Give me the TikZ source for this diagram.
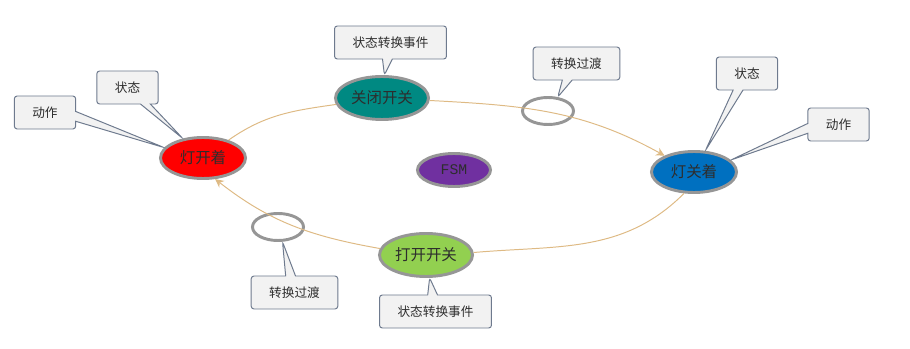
\documentclass[tikz,border=0pt]{standalone}
\usepackage{fontspec}
\newfontfamily\cjk{Noto Sans CJK SC}
\setmonofont{Liberation Mono}
\usetikzlibrary{shapes.geometric,shapes.callouts,arrows.meta}
\definecolor{rimgray}{RGB}{150,150,150}
\definecolor{txtgray}{RGB}{45,45,45}
\definecolor{linetan}{RGB}{222,186,132}
\definecolor{boxfill}{RGB}{242,242,242}
\definecolor{boxrim}{RGB}{110,122,142}
\definecolor{lampon}{RGB}{255,0,0}
\definecolor{lampoff}{RGB}{0,112,192}
\definecolor{swclose}{RGB}{0,137,130}
\definecolor{swopen}{RGB}{146,208,80}
\definecolor{fsmpurple}{RGB}{112,48,160}
\tikzset{
  fsmstate/.style={ellipse,draw=rimgray,line width=2.1pt,inner sep=0pt,
    minimum width=2.125cm,minimum height=1.025cm,text=txtgray,
    font=\cjk\fontsize{11}{13}\selectfont},
  fsmevent/.style={fsmstate,minimum width=2.325cm,minimum height=1.075cm},
  fsmtrans/.style={ellipse,draw=rimgray,line width=2.1pt,inner sep=0pt,
    minimum width=1.275cm,minimum height=0.675cm},
  remark/.style={rectangle callout,draw=boxrim,fill=boxfill,line width=0.7pt,
    rounded corners=2pt,inner xsep=0.45cm,minimum height=0.825cm,
    callout pointer width=7pt,text=txtgray,font=\cjk\fontsize{9}{11}\selectfont},
  flow/.style={draw=linetan,line width=0.7pt},
  flowarrow/.style={flow,-{Stealth[length=6pt,width=6pt]}}
}
\begin{document}
\begin{tikzpicture}[x=0.025cm,y=0.025cm]
  \useasboundingbox (0,0) rectangle (910,349);
  % states and events
  \node[fsmstate,fill=lampon] (on) at (203,191) {灯开着};
  \node[fsmstate,fill=lampoff] (off) at (694,177) {灯关着};
  \node[fsmevent,fill=swclose] (closesw) at (382,251) {关闭开关};
  \node[fsmevent,fill=swopen] (opensw) at (426,94) {打开开关};
  \node[fsmstate,fill=fsmpurple,minimum width=1.825cm,minimum height=0.825cm,
    font=\ttfamily\fontsize{10.5}{12}\selectfont] (fsm) at (454,179) {FSM};
  \node[fsmtrans] (transa) at (548,238) {};
  \node[fsmtrans] (transb) at (278,122) {};
  % transitions
  \draw[flow] (on.35) to[out=35,in=188] (closesw.188);
  \draw[flowarrow] (closesw.-3) to[out=-3,in=151] (off.151);
  \draw[flow] (off.-115) to[out=-135,in=5] (opensw.3);
  \draw[flowarrow] (opensw.172) to[out=170,in=-38] (on.-60);
  % callouts
  \node[remark,callout absolute pointer={(on.165)}] (onact) at (45,236.5) {动作};
  \node[remark,callout absolute pointer={(on.136)}] (onstate) at (127.5,261.5) {状态};
  \node[remark,callout absolute pointer={(closesw.84)}] (closeevt) at (390.5,306.5) {状态转换事件};
  \node[remark,callout absolute pointer={(transa.55)}] (transanote) at (576.5,285.5) {转换过渡};
  \node[remark,callout absolute pointer={(off.62)}] (offstate) at (747,275.5) {状态};
  \node[remark,callout absolute pointer={(off.18)}] (offact) at (838.5,224.5) {动作};
  \node[remark,callout absolute pointer={(transb.287)}] (transbnote) at (294.5,56.5) {转换过渡};
  \node[remark,callout absolute pointer={(opensw.279)}] (openevt) at (435.5,37.5) {状态转换事件};
\end{tikzpicture}
\end{document}
